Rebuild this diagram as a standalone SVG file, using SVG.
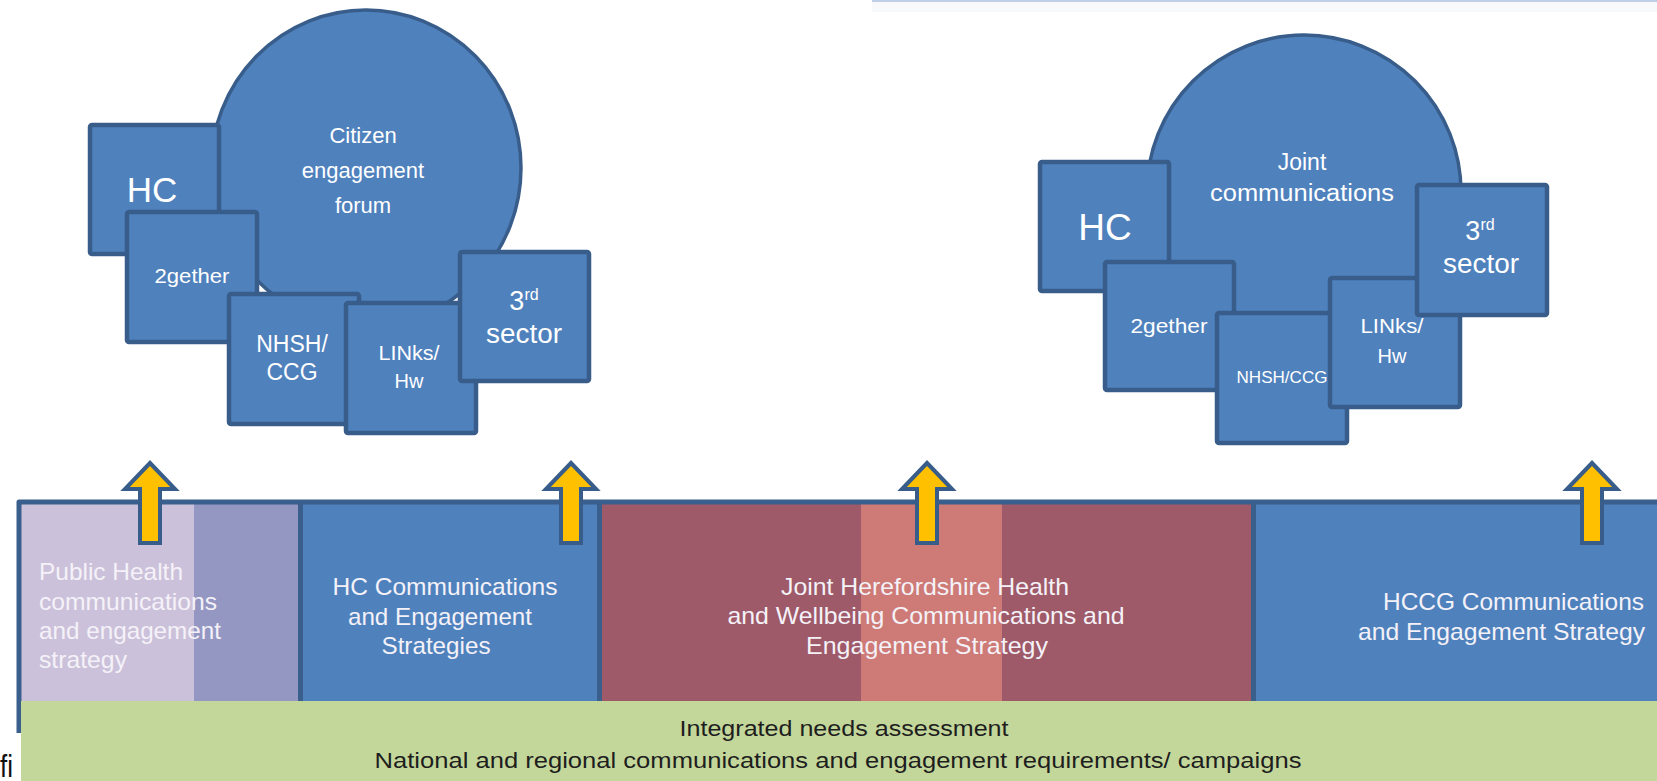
<svg xmlns="http://www.w3.org/2000/svg" width="1657" height="781" viewBox="0 0 1657 781">
  <style>
    .bubble { fill: #4f81bd; stroke: #385d8a; stroke-width: 3.5; }
    .box { fill: #4f81bd; stroke: #385d8a; stroke-width: 4.5; }
    .lbl { fill: #ffffff; font-family: "Liberation Sans", Arial, sans-serif; text-anchor: middle; }
    .band { fill: #f4f2f8; font-family: "Liberation Sans", Arial, sans-serif; font-size: 24px; }
    .foot { fill: #1e1e1e; font-family: "Liberation Sans", Arial, sans-serif; font-size: 22px; text-anchor: middle; }
    .frame { fill: none; stroke: #3a5f8c; stroke-width: 5; stroke-linejoin: round; }
    .up { fill: #ffc000; stroke: #385d8a; stroke-width: 4; stroke-linejoin: miter; }
  </style>
  <defs>
    <!-- upward block arrow, tip at origin -->
    <path id="uparrow" d="M0,0 L25,26 L10,26 L10,80 L-10,80 L-10,26 L-25,26 Z"/>
  </defs>

  <rect width="1657" height="781" fill="#ffffff"/>

  <!-- thin rule along the top right -->
  <rect x="872" y="2" width="785" height="10" fill="#f8f9fb"/>
  <line x1="872" y1="1" x2="1657" y2="1" stroke="#bfd0e6" stroke-width="2"/>

  <!-- left cluster: citizen engagement forum -->
  <g id="citizen-forum">
    <ellipse class="bubble" cx="366" cy="168" rx="155" ry="158"/>
    <text class="lbl" font-size="22" x="363" y="143">Citizen</text>
    <text class="lbl" font-size="22" x="363" y="178">engagement</text>
    <text class="lbl" font-size="22" x="363" y="213">forum</text>
  </g>
  <g id="left-hc">
    <rect class="box" x="90" y="125" width="129" height="129" rx="2"/>
    <text class="lbl" font-size="35" x="152" y="202">HC</text>
  </g>
  <g id="left-2gether">
    <rect class="box" x="127" y="212" width="130" height="130" rx="2"/>
    <text class="lbl" font-size="20" x="192" y="283" textLength="75" lengthAdjust="spacingAndGlyphs">2gether</text>
  </g>
  <g id="left-nhsh">
    <rect class="box" x="229" y="294" width="130" height="130" rx="2"/>
    <text class="lbl" font-size="23" x="292" y="352">NHSH/</text>
    <text class="lbl" font-size="23" x="292" y="380">CCG</text>
  </g>
  <g id="left-links">
    <rect class="box" x="346" y="303" width="130" height="130" rx="2"/>
    <text class="lbl" font-size="20" x="409" y="360" textLength="61" lengthAdjust="spacingAndGlyphs">LINks/</text>
    <text class="lbl" font-size="20" x="409" y="388">Hw</text>
  </g>
  <g id="left-third-sector">
    <rect class="box" x="460" y="252" width="129" height="129" rx="2"/>
    <text class="lbl" font-size="27" x="524" y="310">3<tspan font-size="16" dy="-10">rd</tspan></text>
    <text class="lbl" font-size="27" x="524" y="343" textLength="76" lengthAdjust="spacingAndGlyphs">sector</text>
  </g>

  <!-- right cluster: joint communications -->
  <g id="joint-comms">
    <ellipse class="bubble" cx="1304" cy="192" rx="157" ry="157"/>
    <text class="lbl" font-size="23" x="1302" y="170">Joint</text>
    <text class="lbl" font-size="23" x="1302" y="201" textLength="184" lengthAdjust="spacingAndGlyphs">communications</text>
  </g>
  <g id="right-hc">
    <rect class="box" x="1040" y="162" width="129" height="129" rx="2"/>
    <text class="lbl" font-size="37" x="1105" y="240">HC</text>
  </g>
  <g id="right-2gether">
    <rect class="box" x="1105" y="262" width="129" height="128" rx="2"/>
    <text class="lbl" font-size="21" x="1169" y="333" textLength="77" lengthAdjust="spacingAndGlyphs">2gether</text>
  </g>
  <g id="right-nhsh">
    <rect class="box" x="1217" y="313" width="130" height="130" rx="2"/>
    <text class="lbl" font-size="17" x="1282" y="383" textLength="91" lengthAdjust="spacingAndGlyphs">NHSH/CCG</text>
  </g>
  <g id="right-links">
    <rect class="box" x="1330" y="278" width="130" height="129" rx="2"/>
    <text class="lbl" font-size="20" x="1392" y="333" textLength="63" lengthAdjust="spacingAndGlyphs">LINks/</text>
    <text class="lbl" font-size="20" x="1392" y="363">Hw</text>
  </g>
  <g id="right-third-sector">
    <rect class="box" x="1417" y="185" width="130" height="130" rx="2"/>
    <text class="lbl" font-size="27" x="1480" y="240">3<tspan font-size="16" dy="-10">rd</tspan></text>
    <text class="lbl" font-size="27" x="1481" y="273" textLength="76" lengthAdjust="spacingAndGlyphs">sector</text>
  </g>

  <!-- strategy band -->
  <g id="public-health-strategy">
    <rect x="21" y="502" width="173" height="199" fill="#ccc1da"/>
    <rect x="194" y="502" width="105" height="199" fill="#9597c3"/>
    <text class="band" x="39" y="580" textLength="144" lengthAdjust="spacingAndGlyphs">Public Health</text>
    <text class="band" x="39" y="610" textLength="178" lengthAdjust="spacingAndGlyphs">communications</text>
    <text class="band" x="39" y="639" textLength="182" lengthAdjust="spacingAndGlyphs">and engagement</text>
    <text class="band" x="39" y="668" textLength="88" lengthAdjust="spacingAndGlyphs">strategy</text>
  </g>
  <g id="hc-strategies">
    <rect x="302" y="502" width="296" height="199" fill="#4f81bd"/>
    <text class="band" text-anchor="middle" x="445" y="595" textLength="225" lengthAdjust="spacingAndGlyphs">HC Communications</text>
    <text class="band" text-anchor="middle" x="440" y="625" textLength="184" lengthAdjust="spacingAndGlyphs">and Engagement</text>
    <text class="band" text-anchor="middle" x="436" y="654" textLength="109" lengthAdjust="spacingAndGlyphs">Strategies</text>
  </g>
  <g id="joint-strategy">
    <rect x="601" y="502" width="651" height="199" fill="#9f5a69"/>
    <rect x="861" y="502" width="141" height="199" fill="#ce7a77"/>
    <text class="band" text-anchor="middle" x="925" y="595" textLength="288" lengthAdjust="spacingAndGlyphs">Joint Herefordshire  Health</text>
    <text class="band" text-anchor="middle" x="926" y="624" textLength="397" lengthAdjust="spacingAndGlyphs">and Wellbeing Communications and</text>
    <text class="band" text-anchor="middle" x="927" y="654" textLength="242" lengthAdjust="spacingAndGlyphs">Engagement  Strategy</text>
  </g>
  <g id="hccg-strategy">
    <rect x="1255" y="502" width="402" height="199" fill="#4f81bd"/>
    <text class="band" text-anchor="end" x="1644" y="610" textLength="261" lengthAdjust="spacingAndGlyphs">HCCG  Communications</text>
    <text class="band" text-anchor="end" x="1645" y="640" textLength="287" lengthAdjust="spacingAndGlyphs">and Engagement  Strategy</text>
  </g>

  <!-- band outline and dividers -->
  <g id="band-frame">
    <path class="frame" d="M19,733 L19,502 L1657,502"/>
    <line class="frame" x1="300.5" y1="502" x2="300.5" y2="701"/>
    <line class="frame" x1="599.5" y1="502" x2="599.5" y2="701"/>
    <line class="frame" x1="1253.5" y1="502" x2="1253.5" y2="701"/>
  </g>

  <!-- foundation bar -->
  <g id="foundation">
    <rect x="21" y="701" width="1636" height="80" fill="#c4d79b"/>
    <text class="foot" x="844" y="736" textLength="329" lengthAdjust="spacingAndGlyphs">Integrated needs assessment</text>
    <text class="foot" x="838" y="768" textLength="927" lengthAdjust="spacingAndGlyphs">National and regional communications and engagement requirements/ campaigns</text>
  </g>

  <text x="0" y="777" font-family="'Liberation Sans', Arial, sans-serif" font-size="32" fill="#111111" textLength="13" lengthAdjust="spacingAndGlyphs">fi</text>

  <!-- upward arrows from each strategy -->
  <g id="connectors">
    <use href="#uparrow" class="up" x="150" y="463"/>
    <use href="#uparrow" class="up" x="571" y="463"/>
    <use href="#uparrow" class="up" x="927" y="463"/>
    <use href="#uparrow" class="up" x="1592" y="463"/>
  </g>
</svg>
